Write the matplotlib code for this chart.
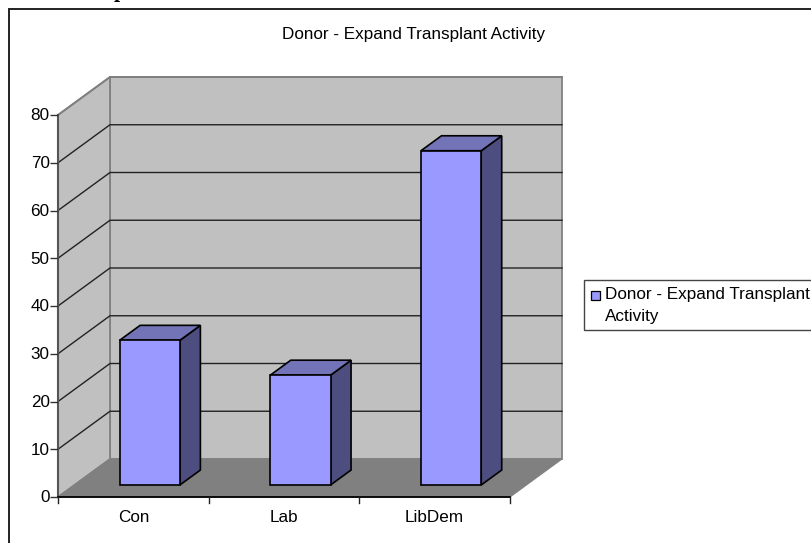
import matplotlib
matplotlib.use("Agg")
import matplotlib.pyplot as plt
from matplotlib.patches import Polygon, Rectangle

categories = ["Con", "Lab", "LibDem"]
values = [30.3, 23, 70]
y_ticks = [0, 10, 20, 30, 40, 50, 60, 70, 80]
title = "Donor - Expand Transplant Activity"
legend_lines = ["Donor - Expand Transplant", "Activity"]

W, H = 811, 543
# pixels of the front plane of the plot
LEFT, RIGHT, BOTTOM, TOP = 58, 510, 497, 115
# full depth of the box in data units
DX = 52 / ((RIGHT - LEFT) / 3)
DY = 38 / ((BOTTOM - TOP) / 80)
BAR_W = 0.4
D1, D2 = 0.316, 0.71
FS = 12.3

plt.rcParams['font.family'] = ['Liberation Sans']

fig = plt.figure(figsize=(W / 100, H / 100), dpi=100)
ax = fig.add_axes([LEFT / W, 1 - BOTTOM / H, (RIGHT - LEFT) / W, (BOTTOM - TOP) / H])
ax.set_xlim(0, 3)
ax.set_ylim(0, 80)
ax.axis("off")


def poly(pts, fc, ec, lw, z):
    ax.add_patch(Polygon(pts, closed=True, facecolor=fc, edgecolor=ec, linewidth=lw,
                         zorder=z, clip_on=False, joinstyle="miter"))


# walls
poly([(DX, DY), (3 + DX, DY), (3 + DX, 80 + DY), (DX, 80 + DY)], "#c0c0c0", "#808080", 1.3, 1)
poly([(0, 0), (DX, DY), (DX, 80 + DY), (0, 80)], "#c0c0c0", "#808080", 1.3, 1)
poly([(0, 0), (3, 0), (3 + DX, DY), (DX, DY)], "#808080", "#808080", 0.8, 1)

# gridlines
for t in y_ticks[1:-1]:
    ax.plot([0, DX, 3 + DX], [t, t + DY, t + DY], color="#222222", lw=1, zorder=2, clip_on=False)
ax.plot([0, DX, 3 + DX], [80, 80 + DY, 80 + DY], color="#808080", lw=1.3, zorder=2, clip_on=False)

# axes
ax.plot([0, 0], [0, 80], color="#555555", lw=1.5, zorder=3, clip_on=False)
ax.plot([0, 3], [0, 0], color="black", lw=1.3, zorder=3, clip_on=False)
for t in y_ticks:
    ax.plot([0], [t], marker=0, ms=5.5, mew=1, color="#333333", zorder=3, clip_on=False)
    ax.annotate(str(t), xy=(0, t), xytext=(-6, -0.7), textcoords="offset points", ha="right",
                va="center", fontsize=FS, color="black", annotation_clip=False)
for i in range(len(categories) + 1):
    ax.plot([i, i], [0, -1.2], color="#222222", lw=1, clip_on=False, zorder=3)

# bars
for i, (name, v) in enumerate(zip(categories, values)):
    x0 = i + 0.5 - BAR_W / 2
    x1 = i + 0.5 + BAR_W / 2
    fx0, fx1 = x0 + D1 * DX, x1 + D1 * DX
    bx1 = x1 + D2 * DX
    bx0 = x0 + D2 * DX
    b0, t0 = D1 * DY, v + D1 * DY
    b1, t1 = D2 * DY, v + D2 * DY
    poly([(fx1, b0), (bx1, b1), (bx1, t1), (fx1, t0)], "#4d4d80", "black", 1.2, 5)
    poly([(fx0, t0), (fx1, t0), (bx1, t1), (bx0, t1)], "#7373b8", "black", 1.2, 5)
    ax.bar(fx0, v, width=fx1 - fx0, bottom=b0, align="edge", color="#9999ff", edgecolor="black",
           linewidth=1.2, zorder=6, clip_on=False)
    ax.text(i + 0.5, -4.3, name, ha="center", va="center", fontsize=FS, color="black", clip_on=False)

# outer frame, runs past the right and bottom edges of the image
fig.add_artist(Rectangle((8.5 / W, -0.02), (W + 10) / W, 1.02 - 9 / H, transform=fig.transFigure,
                         facecolor="none", edgecolor="#222222", linewidth=1.4))

# bottom of a heading cut off by the top of the image
fig.text(120 / W, 1 - 2.5 / H, "p", ha="center", va="bottom", fontsize=16, fontweight="bold",
         family="Liberation Serif", color="black")

fig.text(414 / W, 1 - 34 / H, title, ha="center", va="center", fontsize=FS, color="black")

# legend
fig.add_artist(Rectangle((583.5 / W, 1 - 329.5 / H), 240 / W, 49.5 / H, transform=fig.transFigure,
                         facecolor="white", edgecolor="#444444", linewidth=1))
fig.add_artist(Rectangle((590.5 / W, 1 - 300 / H), 9 / W, 9 / H, transform=fig.transFigure,
                         facecolor="#9999ff", edgecolor="black", linewidth=0.9))
fig.text(605 / W, 1 - 294 / H, legend_lines[0], ha="left", va="center", fontsize=FS)
fig.text(605 / W, 1 - 316 / H, legend_lines[1], ha="left", va="center", fontsize=FS)

fig.savefig("out.png", dpi=100)
